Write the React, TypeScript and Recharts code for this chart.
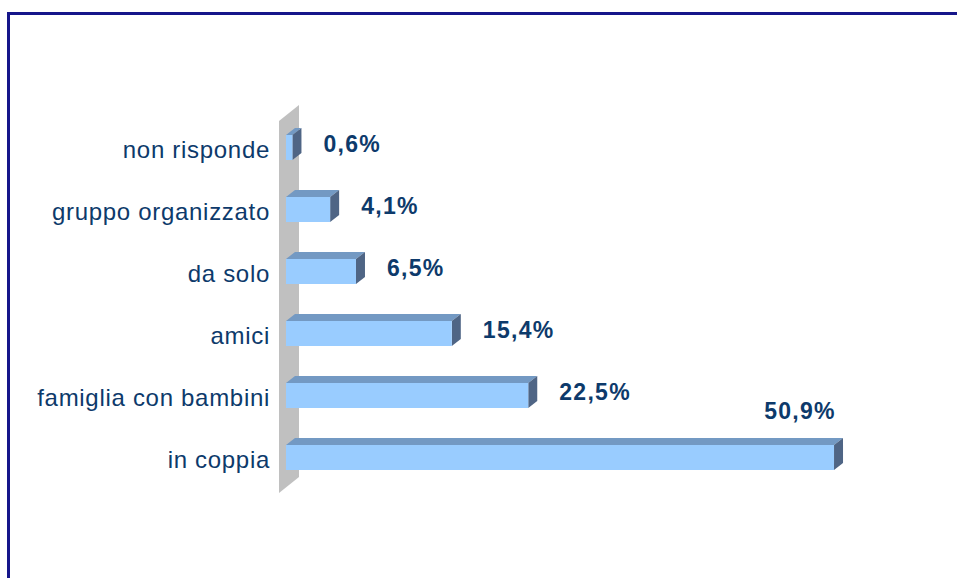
import {
  BarChart,
  Bar,
  XAxis,
  YAxis,
  LabelList,
  ReferenceArea
} from "recharts";

const categories = [
  "non risponde",
  "gruppo organizzato",
  "da solo",
  "amici",
  "famiglia con bambini",
  "in coppia"
];
const shares = [0.6, 4.1, 6.5, 15.4, 22.5, 50.9];
const shareLabels = ["0,6%", "4,1%", "6,5%", "15,4%", "22,5%", "50,9%"];

const data = categories.map((name, i) => ({
  name,
  value: shares[i],
  label: shareLabels[i]
}));

const maxShare = Math.max(...shares);
const FONT = "'Liberation Sans', Arial, sans-serif";
const NAVY = "#0d3a6b";

// 3D look: top face + side face + front face
const Bar3D = (props: any) => {
  const { x, y, width, height } = props;
  const dx = 9;
  const dy = 7;
  return (
    <g>
      <polygon
        points={`${x},${y} ${x + dx},${y - dy} ${x + width + dx},${y - dy} ${x + width},${y}`}
        fill="#7399c3"
      />
      <polygon
        points={`${x + width},${y} ${x + width + dx},${y - dy} ${x + width + dx},${y + height - dy} ${x + width},${y + height}`}
        fill="#4f6585"
      />
      <rect x={x} y={y} width={width} height={height} fill="#99ccff" />
    </g>
  );
};

const Wall = (props: any) => {
  const { x, y, height } = props;
  return (
    <polygon
      points={`${x - 7},${y + 5} ${x + 13},${y - 11} ${x + 13},${y + height - 11} ${x - 7},${y + height + 5}`}
      fill="#c0c0c0"
    />
  );
};

const CategoryTick = (props: any) => {
  const { x, y, payload } = props;
  return (
    <text
      x={x}
      y={y + 11}
      textAnchor="end"
      fill={NAVY}
      fontFamily={FONT}
      fontSize={24}
      letterSpacing={0.7}
    >
      {payload.value}
    </text>
  );
};

const ValueLabel = (props: any) => {
  const { x, y, width, height, value, index } = props;
  const end = x + width;
  if (shares[index] === maxShare) {
    return (
      <text x={end - 34} y={y - 26} textAnchor="middle" fill={NAVY}
        fontFamily={FONT} fontSize={23} fontWeight="bold" letterSpacing={1.3}>
        {value}
      </text>
    );
  }
  return (
    <text x={end + 31} y={y + height / 2 + 4} textAnchor="start" fill={NAVY}
      fontFamily={FONT} fontSize={23} fontWeight="bold" letterSpacing={1.3}>
      {value}
    </text>
  );
};

export default function App() {
  return (
    <div style={{ position: "absolute", left: 0, top: 0, width: 957, height: 578, background: "#fff", overflow: "hidden" }}>
      <div
        style={{
          position: "absolute",
          left: 7,
          top: 12,
          width: 980,
          height: 600,
          borderTop: "3px solid #16168a",
          borderLeft: "3px solid #16168a"
        }}
      />
      <div style={{ position: "absolute", left: 0, top: 0 }}>
        <BarChart
          width={957}
          height={578}
          data={data}
          layout="vertical"
          margin={{ top: 116, right: 25, bottom: 90, left: 0 }}
          barCategoryGap={0}
        >
          <XAxis type="number" domain={[0, 60]} hide />
          <YAxis
            type="category"
            dataKey="name"
            width={286}
            axisLine={false}
            tickLine={false}
            tickSize={0}
            tickMargin={16}
            tick={CategoryTick}
            interval={0}
          />
          <ReferenceArea x1={0} x2={1} shape={Wall} fill="#c0c0c0" ifOverflow="visible" />
          <Bar dataKey="value" barSize={25} shape={Bar3D} isAnimationActive={false}>
            <LabelList dataKey="label" content={ValueLabel} />
          </Bar>
        </BarChart>
      </div>
    </div>
  );
}
